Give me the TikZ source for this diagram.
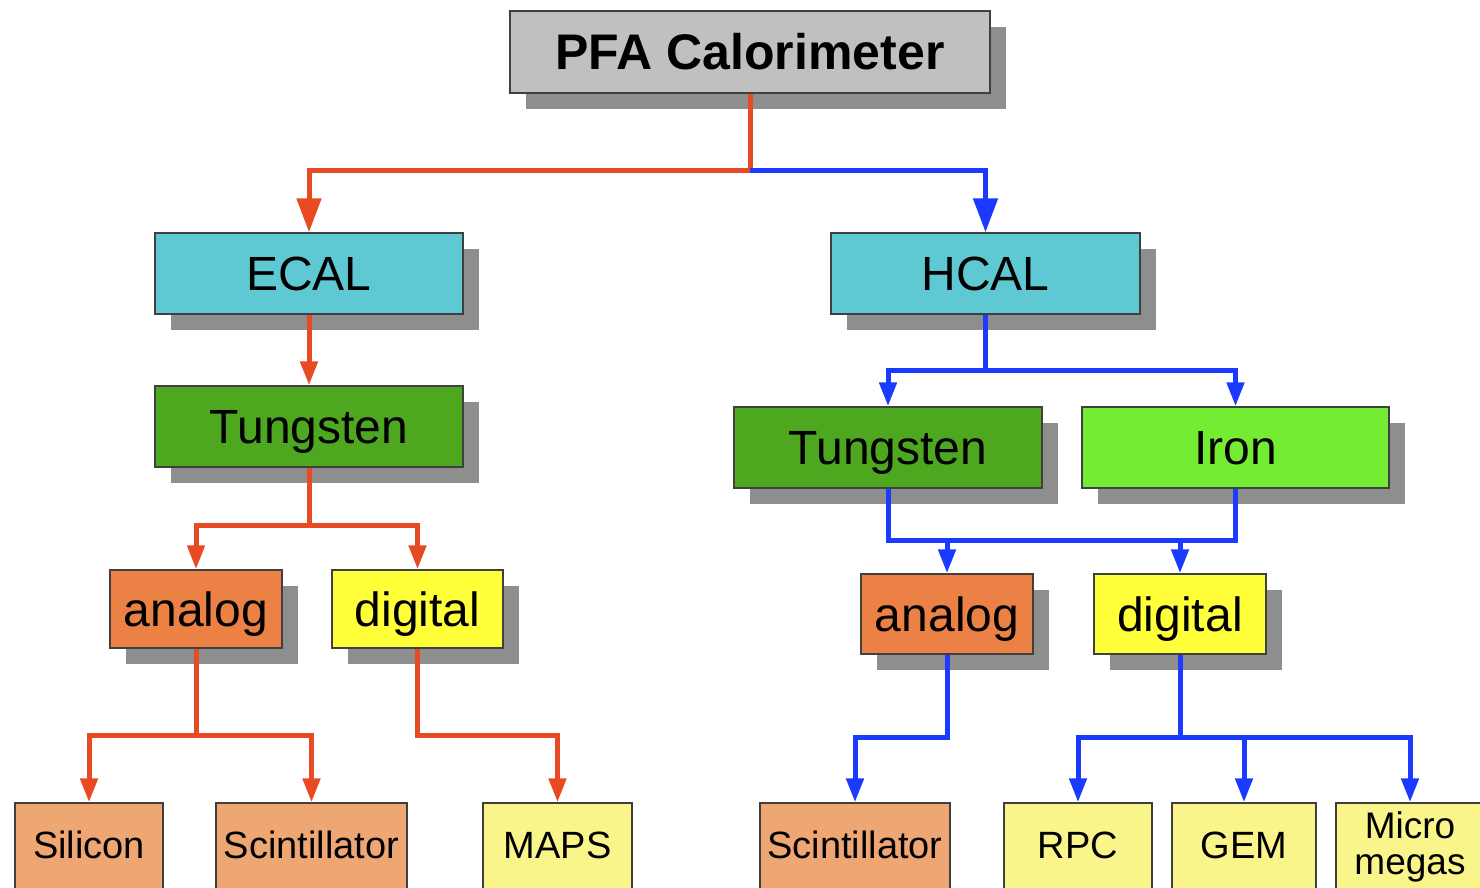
\documentclass[tikz,border=0pt]{standalone}
\usepackage{fontspec}
\setmainfont{Liberation Sans}
\usetikzlibrary{arrows.meta,shadows}
\definecolor{boxgray}{HTML}{C0C0C0}
\definecolor{shadowgray}{HTML}{8E8E8E}
\definecolor{cyanbox}{HTML}{5EC9D3}
\definecolor{darkgreen}{HTML}{4EA81F}
\definecolor{lightgreen}{HTML}{74EC34}
\definecolor{orangebox}{HTML}{EC8146}
\definecolor{yellowbox}{HTML}{FFFF3A}
\definecolor{lightorange}{HTML}{EEA673}
\definecolor{lightyellow}{HTML}{F9F58A}
\definecolor{redline}{HTML}{E84A24}
\definecolor{blueline}{HTML}{1A3BFF}
\definecolor{borderc}{HTML}{404040}
\begin{document}
\begin{tikzpicture}[x=1pt,y=-1pt,
  box/.style={draw=borderc,line width=1.5pt,inner sep=0pt,text depth=0pt,
    drop shadow={shadow xshift=16pt,shadow yshift=-16pt,fill=shadowgray,opacity=1}},
  leaf/.style={draw=borderc,line width=1.5pt,inner sep=0pt,minimum height=90pt,
    font=\fontsize{38}{40}\selectfont,text height=27.2pt,text depth=6pt},
  big/.style={font=\fontsize{48}{56}\selectfont,text height=34.4pt},
  conn/.style={line width=5pt},
  red/.style={conn,draw=redline},
  blue/.style={conn,draw=blueline},
  bigtip/.style={-{Triangle[length=34pt,width=24pt]}},
  tip/.style={-{Triangle[length=24pt,width=17pt]}}
]
\useasboundingbox (0,0) rectangle (1480,887);
\clip (0,0) rectangle (1480,887);
\fill[white] (0,0) rectangle (1480,887);

% nodes
\node[box,fill=boxgray,minimum width=480pt,minimum height=82pt,font=\bfseries\fontsize{50}{58}\selectfont,text height=35.8pt] (pfa) at (750,52) {PFA Calorimeter};
\node[box,big,fill=cyanbox,minimum width=308pt,minimum height=81pt] (ecal) at (309,273.5) {ECAL};
\node[box,big,fill=cyanbox,minimum width=309pt,minimum height=81pt] (hcal) at (985.5,273.5) {HCAL};
\node[box,big,fill=darkgreen,minimum width=308pt,minimum height=81pt] (ewt) at (309,426.5) {Tungsten};
\node[box,big,fill=darkgreen,minimum width=308pt,minimum height=81pt] (hwt) at (888,447.5) {Tungsten};
\node[box,big,fill=lightgreen,minimum width=307pt,minimum height=81pt] (iron) at (1235.5,447.5) {Iron};
\node[box,big,fill=orangebox,minimum width=172pt,minimum height=78pt] (lan) at (196,609) {analog};
\node[box,big,fill=yellowbox,minimum width=171pt,minimum height=78pt] (ldi) at (417.5,609) {digital};
\node[box,big,fill=orangebox,minimum width=172pt,minimum height=80pt] (ran) at (947,614) {analog};
\node[box,big,fill=yellowbox,minimum width=172pt,minimum height=80pt] (rdi) at (1180,614) {digital};

\node[leaf,fill=lightorange,minimum width=148pt] (sil) at (89,848) {Silicon};
\node[leaf,fill=lightorange,minimum width=191pt] (lsc) at (311.5,848) {Scintillator};
\node[leaf,fill=lightyellow,minimum width=149pt] (maps) at (557.5,848) {MAPS};
\node[leaf,fill=lightorange,minimum width=190pt] (rsc) at (855,848) {Scintillator};
\node[leaf,fill=lightyellow,minimum width=148pt] (rpc) at (1078,848) {RPC};
\node[leaf,fill=lightyellow,minimum width=144pt] (gem) at (1244,848) {GEM};
\node[leaf,fill=lightyellow,minimum width=148pt] (mic) at (1410,848) {};
\node[inner sep=0pt,align=center,font=\fontsize{37}{36}\selectfont] (mictext) at (1410,847) {Micro\\megas};

% junctions
\coordinate (j1) at (750,170);
\coordinate (j2) at (309,525);
\coordinate (j3) at (196,735);
\coordinate (j4) at (985.5,370);
\coordinate (j5a) at (888,540);
\coordinate (j5b) at (1235.5,540);
\coordinate (j6) at (947,737);
\coordinate (j7) at (1180,737);
\coordinate (j8) at (417.5,735);
\coordinate (a1) at (947,540);
\coordinate (a2) at (1180,540);

% red connectors
\draw[red] (pfa.south) -- (j1);
\draw[red,bigtip] (j1) -| (ecal.north);
\draw[red,tip] (ecal.south) -- (ewt.north);
\draw[red] (ewt.south) -- (j2);
\draw[red,tip] (j2) -| (lan.north);
\draw[red,tip] (j2) -| (ldi.north);
\draw[red] (lan.south) -- (j3);
\draw[red,tip] (j3) -| (sil.north);
\draw[red,tip] (j3) -| (lsc.north);
\draw[red,tip] (ldi.south) -- (j8) -| (maps.north);

% blue connectors
\draw[blue,bigtip] (j1) -| (hcal.north);
\draw[blue] (hcal.south) -- (j4);
\draw[blue,tip] (j4) -| (hwt.north);
\draw[blue,tip] (j4) -| (iron.north);
\draw[blue] (hwt.south) -- (j5a) -- (j5b) -- (iron.south);
\draw[blue,tip] (a1) -- (ran.north);
\draw[blue,tip] (a2) -- (rdi.north);
\draw[blue,tip] (ran.south) -- (j6) -| (rsc.north);
\draw[blue] (rdi.south) -- (j7);
\draw[blue,tip] (j7) -| (rpc.north);
\draw[blue,tip] (j7) -| (gem.north);
\draw[blue,tip] (j7) -| (mic.north);
\end{tikzpicture}
\end{document}
